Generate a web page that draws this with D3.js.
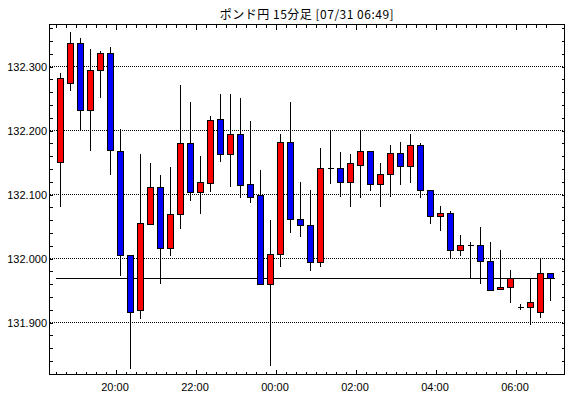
<!DOCTYPE html>
<html>
<head>
<meta charset="utf-8">
<script src="https://cdn.jsdelivr.net/npm/d3@7"></script>
<style>
  body { margin: 0; background: #fff; }
  svg { display: block; }
  text { font-family: "Liberation Sans", Arial, sans-serif; }
</style>
</head>
<body>
<svg width="570" height="398"></svg>
<script>
// 15-minute bars, GBP/JPY
const times = ['18:30','18:45','19:00','19:15','19:30','19:45','20:00','20:15','20:30','20:45',
  '21:00','21:15','21:30','21:45','22:00','22:15','22:30','22:45','23:00','23:15',
  '23:30','23:45','00:00','00:15','00:30','00:45','01:00','01:15','01:30','01:45',
  '02:00','02:15','02:30','02:45','03:00','03:15','03:30','03:45','04:00','04:15',
  '04:30','04:45','05:00','05:15','05:30','05:45','06:00','06:15','06:30','06:45'];

const open = [132.150,132.273,132.336,132.231,132.293,132.321,132.167,132.004,131.919,132.053,
  132.111,132.016,132.068,132.179,132.103,132.117,132.217,132.162,132.193,132.115,
  132.098,131.959,132.007,132.181,132.061,132.051,131.993,132.140,132.140,132.118,
  132.146,132.167,132.116,132.132,132.164,132.143,132.176,132.106,132.065,132.071,
  132.013,132.021,132.021,131.996,131.951,131.954,131.924,131.923,131.915,131.976];

const high = [132.290,132.355,132.346,132.328,132.325,132.331,132.203,132.007,132.164,132.150,
  132.131,132.143,132.272,132.245,132.161,132.223,132.258,132.258,132.252,132.215,
  132.139,132.061,132.196,132.245,132.120,132.108,132.173,132.200,132.167,132.164,
  132.200,132.169,132.150,132.178,132.183,132.196,132.181,132.107,132.083,132.075,
  132.038,132.026,132.050,132.027,132.014,131.983,131.929,131.970,132.001,131.977];

const low = [132.082,132.263,132.202,132.168,132.252,132.132,131.973,131.828,131.907,132.053,
  131.961,132.005,132.047,132.091,132.071,132.105,132.152,132.113,132.096,132.088,
  131.959,131.833,131.988,132.041,132.034,131.982,131.988,132.117,132.097,132.082,
  132.096,132.107,132.082,132.097,132.116,132.119,132.096,132.054,132.043,132.002,
  132.005,131.968,131.961,131.950,131.951,131.932,131.921,131.897,131.908,131.934];

const close = [132.281,132.336,132.231,132.293,132.321,132.169,132.004,131.915,132.054,132.111,
  132.016,132.068,132.179,132.103,132.118,132.215,132.162,132.193,132.114,132.096,
  131.959,132.007,132.181,132.061,132.051,131.993,132.140,132.140,132.118,132.148,
  132.167,132.116,132.132,132.164,132.143,132.176,132.106,132.065,132.071,132.013,
  132.021,132.021,131.996,131.950,131.955,131.968,131.924,131.932,131.976,131.968];

const priceTicks = [131.9, 132.0, 132.1, 132.2, 132.3];
const timeLabels = ['20:00','22:00','00:00','02:00','04:00','06:00'];
const title = 'ポンド円 15分足 [07/31 06:49]';

// ---- helpers
function toDate(s) {
  const [h, m] = s.split(':').map(Number);
  return new Date(2024, 6, h >= 12 ? 30 : 31, h, m);
}
const MIN = 60000;
const bars = times.map((t, i) => ({t: toDate(t), o: open[i], h: high[i], l: low[i], c: close[i]}));

const svg = d3.select('svg');
const frame = {left: 49.5, right: 564.5, top: 24.5, bottom: 374.5};

const t20 = toDate('20:00').getTime();
const x = d3.scaleTime()
  .domain([new Date(t20 - 99.75 * MIN), new Date(t20 + 673.5 * MIN)])
  .range([49, 564.5]);

const y = d3.scaleLinear().domain([131.9, 132.3]).range([322.5, 66.5]);
const py = v => Math.round(y(v) - 0.5) + 0.5;
const cx = d => Math.round(x(new Date(d.t.getTime() + 7.5 * MIN)) - 0.5) + 0.5;

// gridlines
svg.append('g').selectAll('line').data(priceTicks).join('line')
  .attr('x1', frame.left).attr('x2', frame.right)
  .attr('y1', d => py(d)).attr('y2', d => py(d))
  .attr('stroke', '#000').attr('stroke-dasharray', '1,1')
  .attr('shape-rendering', 'crispEdges');

// current price line
svg.append('line')
  .attr('x1', cx(bars[0]) - 5).attr('x2', cx(bars[bars.length - 1]) + 4)
  .attr('y1', py(close[close.length - 1])).attr('y2', py(close[close.length - 1]))
  .attr('stroke', '#000').attr('shape-rendering', 'crispEdges');

// candles
const g = svg.append('g').attr('shape-rendering', 'crispEdges');
g.selectAll('.wick').data(bars).join('line')
  .attr('class', 'wick')
  .attr('x1', cx).attr('x2', cx)
  .attr('y1', d => py(d.h)).attr('y2', d => py(d.l))
  .attr('stroke', '#000');

g.selectAll('.body').data(bars.filter(d => d.o !== d.c)).join('rect')
  .attr('class', 'body')
  .attr('x', d => cx(d) - 3)
  .attr('width', 6)
  .attr('y', d => py(Math.max(d.o, d.c)))
  .attr('height', d => py(Math.min(d.o, d.c)) - py(Math.max(d.o, d.c)))
  .attr('fill', d => d.c > d.o ? '#ff0000' : '#0000ff')
  .attr('stroke', '#000');

g.selectAll('.doji').data(bars.filter(d => d.o === d.c)).join('rect')
  .attr('class', 'doji')
  .attr('x', d => cx(d) - 3)
  .attr('width', 6)
  .attr('y', d => py(d.c) - 0.5)
  .attr('height', 1)
  .attr('fill', '#000');

// frame
svg.append('rect')
  .attr('x', frame.left).attr('y', frame.top)
  .attr('width', frame.right - frame.left).attr('height', frame.bottom - frame.top)
  .attr('fill', 'none').attr('stroke', '#000').attr('shape-rendering', 'crispEdges');

// time ticks
const slotDates = bars.map(d => d.t);
const majorDates = timeLabels.map(toDate);
function tickAxis(axis, ty) {
  const a = svg.append('g').attr('transform', `translate(0,${ty})`).call(axis);
  a.select('.domain').remove();
  a.selectAll('line').attr('shape-rendering', 'crispEdges').attr('stroke', '#000');
  return a;
}
tickAxis(d3.axisBottom(x).tickValues(slotDates).tickSize(3).tickFormat(''), frame.top);
tickAxis(d3.axisBottom(x).tickValues(majorDates).tickSize(5).tickFormat(''), frame.top);
tickAxis(d3.axisTop(x).tickValues(slotDates).tickSize(3).tickFormat(''), frame.bottom);
tickAxis(d3.axisTop(x).tickValues(majorDates).tickSize(5).tickFormat(''), frame.bottom);

const xl = svg.append('g').attr('transform', `translate(-1,${frame.bottom + 0.5})`)
  .call(d3.axisBottom(x).tickValues(majorDates).tickSize(0).tickPadding(8)
    .tickFormat(d3.timeFormat('%H:%M')));
xl.select('.domain').remove();
xl.selectAll('text').attr('font-family', '"Liberation Sans", Arial, sans-serif')
  .attr('font-size', 11).attr('fill', '#000');

// price ticks
const minorPrices = d3.range(131.82, 132.37, 0.02);
const yAxisL = svg.append('g').attr('transform', `translate(${frame.left},0)`)
  .call(d3.axisRight(y).tickValues(minorPrices).tickSize(3).tickFormat(''));
yAxisL.select('.domain').remove();
const yAxisR = svg.append('g').attr('transform', `translate(${frame.right},0)`)
  .call(d3.axisLeft(y).tickValues(minorPrices).tickSize(3).tickFormat(''));
yAxisR.select('.domain').remove();
svg.selectAll('g.tick line').attr('shape-rendering', 'crispEdges').attr('stroke', '#000');

const yl = svg.append('g').attr('transform', `translate(${frame.left - 0.5},0.5)`)
  .call(d3.axisLeft(y).tickValues(priceTicks).tickSize(0).tickPadding(2)
    .tickFormat(d3.format('.3f')));
yl.select('.domain').remove();
yl.selectAll('text').attr('font-family', '"Liberation Sans", Arial, sans-serif')
  .attr('font-size', 11).attr('fill', '#000');

// title
svg.append('text')
  .attr('x', (frame.left + frame.right) / 2).attr('y', 18.5)
  .attr('text-anchor', 'middle')
  .style('font-family', '"Noto Sans CJK JP", sans-serif')
  .style('font-size', '12px')
  .style('letter-spacing', '0.5px')
  .text(title);
</script>
</body>
</html>
